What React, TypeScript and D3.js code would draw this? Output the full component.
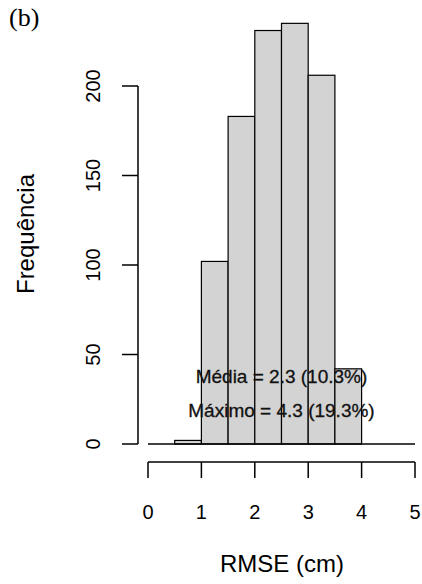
import React from 'react'
import * as d3 from 'd3'

// histogram bins (width 0.5 cm) and counts
const binStarts = [0.5, 1.0, 1.5, 2.0, 2.5, 3.0, 3.5]
const counts = [2, 102, 183, 231, 235, 206, 42]
const binWidth = 0.5
const xTicks = [0, 1, 2, 3, 4, 5]
const yTicks = [0, 50, 100, 150, 200]
const notes = ['Média = 2.3 (10.3%)', 'Máximo = 4.3 (19.3%)']
const noteY = [38, 19]

export default function App() {
  const width = 422
  const height = 584
  const font = 'Liberation Sans, Arial, sans-serif'

  const x = d3.scaleLinear().domain([0, 5]).range([148, 415])
  const y = d3.scaleLinear().domain([0, 200]).range([444, 86])

  const axisY = 462 // x-axis line position
  const axisX = 138 // y-axis line position

  return (
    <svg width={width} height={height} style={{ position: 'absolute', left: 0, top: 0, background: '#fff' }}>
      <text x={9} y={26} fontFamily="Liberation Serif, Times New Roman, serif" fontSize={26} fill="#000">(b)</text>

      {/* bars */}
      {binStarts.map((b, i) => (
        <rect key={i}
          x={x(b)} y={y(counts[i])}
          width={x(b + binWidth) - x(b)} height={y(0) - y(counts[i])}
          fill="#d3d3d3" stroke="#000" strokeWidth={1.2} />
      ))}
      {/* baseline */}
      <line x1={x(0)} x2={x(5)} y1={y(0)} y2={y(0)} stroke="#000" strokeWidth={1.5} />

      {/* y axis */}
      <line x1={axisX} x2={axisX} y1={y(0)} y2={y(200)} stroke="#000" strokeWidth={1.5} />
      {yTicks.map(t => (
        <g key={t}>
          <line x1={axisX - 16} x2={axisX} y1={y(t)} y2={y(t)} stroke="#000" strokeWidth={1.5} />
          <text transform={`translate(100,${y(t)}) rotate(-90)`} textAnchor="middle"
            fontFamily={font} fontSize={20} fill="#000">{t}</text>
        </g>
      ))}

      {/* x axis */}
      <line x1={x(0)} x2={x(5)} y1={axisY} y2={axisY} stroke="#000" strokeWidth={1.5} />
      {xTicks.map(t => (
        <g key={t}>
          <line x1={x(t)} x2={x(t)} y1={axisY} y2={axisY + 16} stroke="#000" strokeWidth={1.5} />
          <text x={x(t)} y={519} textAnchor="middle" fontFamily={font} fontSize={20} fill="#000">{t}</text>
        </g>
      ))}

      {/* axis titles */}
      <text x={282} y={572} textAnchor="middle" fontFamily={font} fontSize={24} fill="#000">RMSE (cm)</text>
      <text transform="translate(34,234) rotate(-90)" textAnchor="middle" fontFamily={font} fontSize={24} fill="#000">Frequência</text>

      {/* annotations */}
      {notes.map((n, i) => (
        <text key={i} x={x(2.5)} y={y(noteY[i]) + 7} textAnchor="middle"
          fontFamily={font} fontSize={19} fill="#111" stroke="#111" strokeWidth={0.3}>{n}</text>
      ))}
    </svg>
  )
}
